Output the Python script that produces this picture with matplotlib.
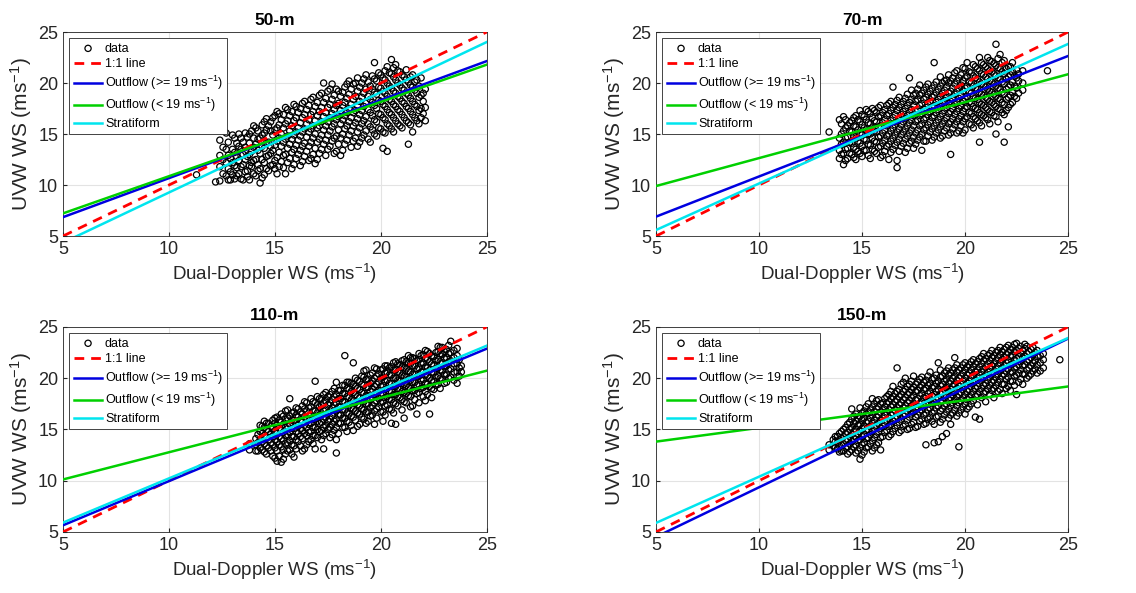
import numpy as np
import matplotlib.pyplot as plt

plt.rcParams['font.family'] = ['Liberation Sans', 'DejaVu Sans']
plt.rcParams['mathtext.fontset'] = 'custom'
plt.rcParams['mathtext.rm'] = 'Liberation Sans'
plt.rcParams['mathtext.it'] = 'Liberation Sans:italic'

# Datos: columnas de x con sus valores de y (dos grupos por panel)
x50 = [11.3, 12.2, 12.4, 12.7, 12.9, 13.1, 13.3, 13.5, 13.7, 13.9, 14.1, 14.3, 14.5, 14.7, 14.9,
       15.1, 15.3, 15.5, 15.7, 15.9, 16.1, 16.3, 16.5, 16.7, 16.9, 17.1, 17.3, 17.5, 17.7, 17.9,
       18.1, 18.3, 18.5, 18.7, 18.9, 19.1, 19.3, 19.5, 19.7, 19.9, 20.1, 20.3, 20.5, 20.7, 20.9,
       21.1, 21.3, 21.5, 21.7, 21.9, 22.1]
y50 = [[11.0], [10.3], [10.4, 11.8, 12.9, 14.4], [10.9, 12.2, 13.5, 15.1], [11.3, 12.6, 10.5],
       [10.6, 11.9, 13.2, 14.6], [11.1, 12.4, 13.8, 15.0], [10.5, 12.0, 13.0, 14.2],
       [11.4, 12.8, 14.7, 10.8], [11.8, 13.3, 15.3, 12.2], [10.9, 12.5, 14.0, 15.6],
       [11.6, 13.1, 14.6, 10.2], [12.2, 13.6, 15.1, 16.2, 11.0], [11.4, 12.9, 14.2, 15.8],
       [12.0, 13.4, 14.9, 16.6], [11.1, 12.7, 14.3, 15.6, 17.2], [12.3, 13.8, 15.0, 16.4],
       [11.1, 13.0, 14.5, 16.0, 17.6], [12.6, 14.0, 15.3, 16.8], [12.0, 13.5, 14.9, 16.3, 17.9],
       [13.0, 14.4, 15.6, 17.1], [12.3, 13.8, 15.2, 16.6, 18.0], [13.3, 14.7, 16.0, 17.4],
       [12.6, 14.2, 15.5, 16.9, 18.4], [13.6, 15.0, 16.3, 17.7, 12.1], [13.1, 14.5, 15.8, 17.2, 18.8],
       [14.0, 15.4, 16.7, 18.1, 20.0], [13.5, 14.9, 16.2, 17.6, 19.2], [14.3, 15.7, 17.0, 18.4, 19.9],
       [13.3, 14.8, 16.4, 17.8, 19.4], [14.6, 16.0, 17.3, 18.7, 12.9], [14.0, 15.5, 16.8, 18.1, 19.6],
       [14.9, 16.2, 17.5, 18.9, 20.2], [14.3, 15.8, 17.1, 18.4, 19.9], [13.8, 15.2, 16.5, 17.8, 19.2, 20.5],
       [14.6, 16.0, 17.3, 18.6, 20.0], [15.3, 16.7, 18.0, 19.4, 20.8], [14.2, 15.7, 17.1, 18.4, 19.7],
       [15.0, 16.4, 17.8, 19.1, 20.4, 22.0], [15.6, 17.0, 18.3, 19.6, 21.0],
       [13.6, 15.2, 16.6, 17.9, 19.2, 20.5], [13.3, 16.0, 17.4, 18.7, 20.0, 21.6],
       [15.5, 16.9, 18.2, 19.5, 20.9, 22.3], [16.3, 17.7, 19.0, 20.3, 21.8],
       [15.8, 17.2, 18.5, 19.8, 21.1], [16.6, 18.0, 19.3, 20.6], [14.0, 16.1, 17.5, 18.8, 20.1],
       [15.2, 16.9, 18.2, 19.6, 20.8], [16.3, 17.7, 19.0, 20.3], [16.6, 17.5, 18.8, 20.5],
       [16.3, 17.6, 19.4]]
x50b = [12.55, 12.8, 13.0, 13.2, 13.4, 13.6, 13.8, 14.0, 14.2, 14.4, 14.6, 14.8, 15.0, 15.2, 15.4,
        15.6, 15.8, 16.0, 16.2, 16.4, 16.6, 16.8, 17.0, 17.2, 17.4, 17.6, 17.8, 18.0, 18.2, 18.4,
        18.6, 18.8, 19.0, 19.2, 19.4, 19.6, 19.8, 20.0, 20.2, 20.4, 20.6, 20.8, 21.0, 21.2, 21.4,
        21.6, 21.8, 22.0]
y50b = [[11.1, 12.5, 13.7], [10.5, 11.6, 12.9, 14.2], [11.0, 12.2, 13.5, 14.9], [10.9, 11.7, 12.8, 14.1],
        [10.6, 11.8, 12.9, 13.5, 14.6], [11.3, 12.5, 13.7, 15.1], [10.5, 11.9, 13.0, 14.1, 15.0],
        [11.1, 12.4, 13.7, 14.6, 15.8], [11.4, 12.0, 13.4, 14.5, 15.3], [10.7, 12.5, 13.8, 14.9, 15.9],
        [11.6, 12.8, 14.1, 15.4, 16.5], [11.9, 13.1, 13.8, 15.3, 16.2], [11.6, 12.4, 13.9, 15.4, 16.8],
        [11.8, 13.2, 14.6, 15.9, 17.0], [11.7, 12.9, 14.2, 15.6, 16.9], [12.2, 13.6, 14.8, 16.3, 17.4],
        [11.6, 13.2, 14.5, 15.8, 17.2], [12.6, 13.9, 15.2, 16.6, 17.7], [11.9, 13.4, 14.8, 16.1, 17.5],
        [12.8, 14.1, 15.5, 16.9, 18.2], [12.4, 13.8, 15.2, 16.4, 17.8], [13.0, 14.6, 15.8, 17.2, 18.6],
        [12.5, 14.2, 15.6, 16.8, 18.1], [13.5, 14.9, 16.2, 17.6, 19.0], [12.9, 14.4, 15.8, 17.1, 18.5],
        [13.8, 15.3, 16.6, 17.9, 19.4], [13.1, 14.6, 16.0, 17.4, 18.8], [14.0, 15.4, 16.7, 18.0, 19.2],
        [13.4, 15.0, 16.4, 17.8, 19.1], [14.4, 15.8, 17.1, 18.5, 19.9], [13.7, 15.3, 16.6, 17.9, 19.4],
        [14.6, 16.1, 17.3, 18.7, 20.0], [14.2, 15.6, 16.9, 18.2, 19.6], [14.9, 16.3, 17.7, 19.0, 20.4],
        [14.5, 16.0, 17.4, 18.7, 20.1], [15.4, 16.8, 18.1, 19.4, 20.7], [14.8, 16.2, 17.5, 18.9, 20.2],
        [15.5, 16.9, 18.2, 19.5, 20.8], [15.1, 16.4, 17.7, 19.0, 20.3, 21.2], [15.8, 17.1, 18.4, 19.7, 21.0],
        [15.2, 16.6, 17.9, 19.2, 20.6, 21.5], [16.0, 17.4, 18.7, 20.0, 21.2], [15.6, 16.9, 18.2, 19.5, 20.8],
        [16.3, 17.7, 19.0, 20.3, 21.3], [15.9, 17.2, 18.5, 19.8, 20.6], [16.6, 17.9, 19.3, 20.1],
        [16.0, 17.3, 18.6, 19.7], [17.0, 18.2, 19.0]]

x70 = [13.4, 13.9, 14.1, 14.3, 14.5, 14.7, 14.9, 15.1, 15.3, 15.5, 15.7, 15.9, 16.1, 16.3, 16.5,
       16.7, 16.9, 17.1, 17.3, 17.5, 17.7, 17.9, 18.1, 18.3, 18.5, 18.7, 18.9, 19.1, 19.3, 19.5,
       19.7, 19.9, 20.1, 20.3, 20.5, 20.7, 20.9, 21.1, 21.3, 21.5, 21.7, 21.9, 22.1, 22.3, 22.5,
       22.8, 24.0]
y70 = [[15.2], [12.6, 13.4, 14.6, 16.4], [12.0, 13.1, 14.2, 15.3, 16.7], [12.6, 13.6, 14.7, 15.8],
       [13.0, 14.1, 15.2, 16.3], [12.5, 13.5, 14.6, 15.7, 16.8], [13.1, 14.1, 15.1, 16.2, 17.3],
       [13.4, 14.5, 15.6, 16.7], [12.9, 14.0, 15.0, 16.1, 17.2], [13.5, 14.6, 15.6, 16.6, 17.5],
       [13.1, 14.2, 15.2, 16.2, 17.1], [12.7, 13.8, 14.8, 15.8, 16.8, 17.8], [13.3, 14.4, 15.4, 16.4, 17.4],
       [12.5, 14.0, 15.0, 16.0, 17.0, 18.0], [13.5, 14.6, 15.6, 16.6, 17.6, 19.6],
       [11.7, 12.4, 14.2, 15.2, 16.2, 17.3, 18.3], [13.8, 14.9, 15.9, 16.9, 17.9],
       [13.2, 14.5, 15.5, 16.5, 17.5, 18.5], [14.1, 15.1, 16.1, 17.1, 18.1, 20.5],
       [13.6, 14.7, 15.8, 16.8, 17.8, 18.8], [14.4, 15.4, 16.4, 17.4, 18.4, 19.4],
       [13.4, 15.0, 16.0, 17.0, 18.0, 19.0], [14.3, 15.6, 16.6, 17.6, 18.6, 19.6],
       [15.2, 16.2, 17.2, 18.2, 19.2], [14.7, 15.8, 16.8, 17.8, 18.8, 19.8, 22.0],
       [15.4, 16.4, 17.4, 18.4, 19.4], [14.8, 16.0, 17.0, 18.0, 19.0, 20.0],
       [15.6, 16.6, 17.6, 18.6, 19.6, 20.3], [13.0, 15.1, 16.2, 17.2, 18.2, 19.2, 20.2],
       [15.9, 16.9, 17.9, 18.9, 19.9, 21.0], [15.3, 16.5, 17.5, 18.5, 19.5, 20.5],
       [15.1, 16.2, 17.2, 18.2, 19.2, 20.2, 21.5], [16.7, 17.7, 18.7, 19.7, 20.7, 22.0],
       [15.9, 17.0, 18.0, 19.0, 20.0, 21.0], [16.5, 17.5, 18.5, 19.5, 20.5, 21.6],
       [14.2, 16.1, 17.1, 18.1, 19.1, 20.1, 21.2, 22.5], [16.8, 17.8, 18.8, 19.8, 20.8, 21.8],
       [16.4, 17.4, 18.4, 19.4, 20.4, 21.4, 22.5], [17.1, 18.1, 19.1, 20.1, 21.1, 22.1],
       [15.0, 16.7, 17.7, 18.7, 19.7, 20.7, 21.7, 23.8], [17.4, 18.4, 19.4, 20.4, 21.4, 22.8],
       [14.2, 16.9, 17.9, 18.9, 19.9, 20.9, 22.2], [15.7, 17.6, 18.6, 19.6, 20.6, 21.6],
       [18.1, 19.1, 20.1, 21.1, 22.0], [18.5, 19.5, 20.5, 21.3], [19.3, 20.0, 21.2], [21.2]]
x70b = [14.0, 14.2, 14.4, 14.6, 14.8, 15.0, 15.2, 15.4, 15.6, 15.8, 16.0, 16.2, 16.4, 16.6, 16.8,
        17.0, 17.2, 17.4, 17.6, 17.8, 18.0, 18.2, 18.4, 18.6, 18.8, 19.0, 19.2, 19.4, 19.6, 19.8,
        20.0, 20.2, 20.4, 20.6, 20.8, 21.0, 21.2, 21.4, 21.6, 21.8, 22.0, 22.2, 22.4, 22.6]
y70b = [[13.0, 14.0, 15.0, 16.0], [12.4, 13.5, 14.6, 15.6, 16.4], [13.1, 14.2, 15.3, 16.1],
        [12.7, 13.7, 14.8, 15.8, 16.6], [13.3, 14.3, 15.4, 16.4], [12.8, 13.8, 14.9, 15.9, 16.9],
        [13.4, 14.4, 15.4, 16.4, 17.4], [12.6, 13.9, 15.0, 16.0, 17.0], [13.3, 14.3, 15.3, 16.3, 17.3],
        [13.7, 14.7, 15.7, 16.7, 17.6], [12.9, 14.1, 15.1, 16.1, 17.1], [13.8, 14.8, 15.8, 16.8, 17.8],
        [13.2, 14.3, 15.3, 16.3, 17.3, 18.2], [13.9, 14.9, 15.9, 16.9, 17.9],
        [13.3, 14.5, 15.5, 16.5, 17.6, 18.6], [14.1, 15.2, 16.2, 17.2, 18.2],
        [13.6, 14.8, 15.8, 16.8, 17.8, 18.9], [14.3, 15.4, 16.4, 17.4, 18.4, 19.3],
        [14.0, 15.1, 16.2, 17.2, 18.2, 19.0], [14.7, 15.8, 16.8, 17.8, 18.8, 19.8],
        [14.3, 15.4, 16.4, 17.4, 18.4, 19.3], [14.8, 15.9, 16.9, 17.9, 18.9, 19.9],
        [14.4, 15.5, 16.6, 17.6, 18.6, 19.5], [15.1, 16.1, 17.1, 18.1, 19.1, 20.1],
        [14.6, 15.7, 16.7, 17.7, 18.7, 19.7, 20.6], [15.3, 16.3, 17.3, 18.3, 19.3, 20.2],
        [14.9, 16.0, 17.0, 18.0, 19.0, 20.0, 20.8], [15.5, 16.5, 17.5, 18.5, 19.5, 20.5],
        [15.1, 16.2, 17.2, 18.2, 19.2, 20.2, 21.2], [15.8, 16.8, 17.8, 18.8, 19.8, 20.8],
        [15.4, 16.5, 17.5, 18.5, 19.5, 20.5, 21.4], [16.0, 17.1, 18.1, 19.1, 20.1, 21.1],
        [15.6, 16.7, 17.7, 18.7, 19.7, 20.7, 21.8], [16.3, 17.4, 18.4, 19.4, 20.4, 21.4],
        [15.8, 16.9, 17.9, 18.9, 19.9, 20.9, 22.0], [16.6, 17.6, 18.6, 19.6, 20.6, 21.6],
        [16.0, 17.2, 18.2, 19.2, 20.2, 21.2, 22.2], [16.8, 17.9, 18.9, 19.9, 20.9, 21.9],
        [16.2, 17.5, 18.5, 19.5, 20.5, 21.5, 22.4], [17.1, 18.1, 19.1, 20.1, 21.1, 22.0],
        [17.3, 18.4, 19.4, 20.4, 21.4], [17.9, 18.8, 19.8, 20.8, 21.6], [18.7, 19.7, 20.7],
        [19.0, 20.2, 20.9]]

x110 = [13.8, 14.1, 14.3, 14.5, 14.7, 14.9, 15.1, 15.3, 15.5, 15.7, 15.9, 16.1, 16.3, 16.5, 16.7,
        16.9, 17.1, 17.3, 17.5, 17.7, 17.9, 18.1, 18.3, 18.5, 18.7, 18.9, 19.1, 19.3, 19.5, 19.7,
        19.9, 20.1, 20.3, 20.5, 20.7, 20.9, 21.1, 21.3, 21.5, 21.7, 21.9, 22.1, 22.3, 22.5, 22.7,
        22.9, 23.1, 23.3, 23.6, 23.8]
y110 = [[13.0, 13.6], [12.9, 13.5, 14.1], [13.2, 14.0, 14.8, 15.4], [12.8, 13.6, 14.4, 15.2, 15.8],
        [13.2, 14.0, 14.8, 15.6], [12.4, 13.5, 14.3, 15.1, 15.9], [11.9, 12.9, 13.8, 14.6, 15.4, 16.2],
        [11.8, 13.3, 14.1, 14.9, 15.7, 16.5], [12.6, 13.6, 14.4, 15.2, 16.0, 16.8],
        [13.0, 13.9, 14.7, 15.5, 16.3, 18.0], [12.3, 13.4, 14.3, 15.1, 15.9, 16.7],
        [13.8, 14.6, 15.4, 16.2, 17.0], [12.9, 14.1, 14.9, 15.7, 16.5, 17.3],
        [13.5, 14.4, 15.2, 16.0, 16.8, 17.6], [14.0, 14.8, 15.6, 16.4, 17.2, 18.0],
        [13.1, 14.4, 15.2, 16.0, 16.8, 17.6, 19.7], [14.8, 15.6, 16.4, 17.2, 18.0],
        [13.1, 14.4, 15.2, 16.0, 16.8, 17.6, 18.4], [15.0, 15.8, 16.6, 17.4, 18.2],
        [14.5, 15.5, 16.3, 17.1, 17.9, 18.7], [12.7, 14.0, 15.2, 16.0, 16.8, 17.6, 18.4, 19.6],
        [15.6, 16.4, 17.2, 18.0, 18.8], [15.2, 16.1, 16.9, 17.7, 18.5, 19.3, 22.2],
        [15.7, 16.5, 17.3, 18.1, 18.9, 19.6], [14.9, 16.2, 17.0, 17.8, 18.6, 19.4, 21.5],
        [15.3, 16.6, 17.4, 18.2, 19.0, 19.8], [16.2, 17.0, 17.8, 18.6, 19.4, 20.2],
        [15.6, 16.7, 17.5, 18.3, 19.1, 19.9, 20.8], [16.3, 17.1, 17.9, 18.7, 19.5, 20.3],
        [15.5, 16.8, 17.6, 18.4, 19.2, 20.0, 21.0], [17.2, 18.0, 18.8, 19.6, 20.4],
        [15.8, 16.7, 17.7, 18.5, 19.3, 20.1, 20.9], [17.4, 18.2, 19.0, 19.8, 20.6, 21.2],
        [15.6, 16.9, 17.9, 18.7, 19.5, 20.3, 21.1], [15.5, 17.5, 18.4, 19.2, 20.0, 20.8, 21.6],
        [18.1, 18.9, 19.7, 20.5, 21.3], [16.1, 17.7, 18.6, 19.4, 20.2, 21.0, 21.8],
        [18.3, 19.1, 19.9, 20.7, 21.5, 22.2], [17.3, 18.8, 19.6, 20.4, 21.2, 22.0],
        [16.5, 18.5, 19.3, 20.1, 20.9, 21.7], [19.0, 19.8, 20.6, 21.4, 22.2],
        [17.8, 18.7, 19.5, 20.3, 21.1, 21.9, 22.7], [16.5, 19.2, 20.0, 20.8, 21.6, 22.4],
        [18.9, 19.7, 20.5, 21.3, 22.1], [19.4, 20.2, 21.0, 21.8, 22.6, 23.1],
        [19.9, 20.7, 21.5, 22.3, 23.0], [19.6, 20.4, 21.2, 22.0, 22.8],
        [20.1, 20.9, 21.7, 22.5, 23.6], [19.5, 20.6, 21.4, 22.2, 22.9], [20.6, 21.2]]
x110b = [14.2, 14.4, 14.6, 14.8, 15.0, 15.2, 15.4, 15.6, 15.8, 16.0, 16.2, 16.4, 16.6, 16.8, 17.0,
         17.2, 17.4, 17.6, 17.8, 18.0, 18.2, 18.4, 18.6, 18.8, 19.0, 19.2, 19.4, 19.6, 19.8, 20.0,
         20.2, 20.4, 20.6, 20.8, 21.0, 21.2, 21.4, 21.6, 21.8, 22.0, 22.2, 22.4, 22.6, 22.8, 23.0,
         23.2, 23.45, 23.7]
y110b = [[12.9, 13.7, 14.5], [13.0, 13.8, 14.6, 15.3], [12.6, 13.4, 14.2, 15.0, 15.6],
         [12.9, 13.7, 14.5, 15.3], [12.2, 13.2, 14.0, 14.8, 15.6, 16.1], [12.4, 13.5, 14.3, 15.1, 15.9],
         [12.1, 13.0, 13.9, 14.7, 15.5, 16.3], [12.9, 13.7, 14.5, 15.3, 16.1, 16.9],
         [12.6, 13.5, 14.3, 15.1, 15.9, 16.6], [13.1, 14.0, 14.8, 15.6, 16.4, 17.1],
         [13.4, 14.3, 15.1, 15.9, 16.7], [13.1, 14.6, 15.4, 16.2, 17.0, 17.7],
         [13.8, 14.7, 15.5, 16.3, 17.1], [13.6, 14.4, 15.2, 16.0, 16.8, 17.7],
         [14.2, 15.0, 15.8, 16.6, 17.4, 18.2], [14.0, 14.9, 15.7, 16.5, 17.3, 18.0],
         [14.6, 15.4, 16.2, 17.0, 17.8, 18.6], [14.2, 15.2, 16.0, 16.8, 17.6, 18.4],
         [14.9, 15.8, 16.6, 17.4, 18.2, 19.0], [14.6, 15.6, 16.4, 17.2, 18.0, 18.8],
         [15.2, 16.1, 16.9, 17.7, 18.5, 19.3], [14.8, 15.8, 16.6, 17.4, 18.2, 19.0, 19.6],
         [15.4, 16.3, 17.1, 17.9, 18.7, 19.5], [15.9, 16.8, 17.6, 18.4, 19.2, 20.0],
         [15.5, 16.5, 17.3, 18.1, 18.9, 19.7], [16.0, 16.9, 17.7, 18.5, 19.3, 20.1, 20.7],
         [15.8, 16.7, 17.5, 18.3, 19.1, 19.9], [16.4, 17.3, 18.1, 18.9, 19.7, 20.5],
         [16.1, 17.0, 17.8, 18.6, 19.4, 20.2, 20.9], [16.7, 17.6, 18.4, 19.2, 20.0, 20.8],
         [16.4, 17.3, 18.1, 18.9, 19.7, 20.5, 21.2], [17.0, 17.9, 18.7, 19.5, 20.3, 21.0],
         [16.6, 17.6, 18.4, 19.2, 20.0, 20.8, 21.5], [17.3, 18.2, 19.0, 19.8, 20.6, 21.4],
         [16.9, 17.9, 18.7, 19.5, 20.3, 21.1, 21.7], [17.6, 18.5, 19.3, 20.1, 20.9, 21.6],
         [17.2, 18.2, 19.0, 19.8, 20.6, 21.4, 22.0], [17.9, 18.8, 19.6, 20.4, 21.2, 21.9],
         [17.6, 18.6, 19.4, 20.2, 21.0, 21.8, 22.4], [18.2, 19.1, 19.9, 20.7, 21.5, 22.3],
         [18.4, 19.4, 20.2, 21.0, 21.8, 22.6], [18.1, 19.0, 19.8, 20.6, 21.4, 22.2],
         [19.3, 20.1, 20.9, 21.7, 22.5], [19.0, 20.0, 20.8, 21.6, 22.4, 23.0],
         [19.5, 20.3, 21.1, 21.9, 22.6], [20.0, 20.8, 21.6, 22.4, 23.2],
         [19.8, 20.6, 21.4, 22.0, 22.7], [20.2, 21.0, 21.8]]

x150 = [13.4, 13.7, 13.9, 14.1, 14.3, 14.5, 14.7, 14.9, 15.1, 15.3, 15.5, 15.7, 15.9, 16.1, 16.3,
        16.5, 16.7, 16.9, 17.1, 17.3, 17.5, 17.7, 17.9, 18.1, 18.3, 18.5, 18.7, 18.9, 19.1, 19.3,
        19.5, 19.7, 19.9, 20.1, 20.3, 20.5, 20.7, 20.9, 21.1, 21.3, 21.5, 21.7, 21.9, 22.1, 22.3,
        22.5, 22.7, 22.9, 23.1, 23.3, 23.5, 23.8, 24.6]
y150 = [[13.0, 13.5], [13.2, 13.8, 14.3], [12.8, 13.4, 14.0, 14.6], [12.9, 13.6, 14.3, 15.0],
        [12.6, 13.3, 14.0, 14.7, 15.5], [13.0, 13.8, 14.5, 15.2, 16.0, 17.0],
        [12.7, 13.5, 14.3, 15.0, 15.8, 16.5], [12.1, 13.2, 14.0, 14.8, 15.5, 16.3, 17.1],
        [12.8, 13.7, 14.5, 15.3, 16.1, 16.8], [13.3, 14.2, 15.0, 15.8, 16.6, 17.5],
        [12.9, 13.9, 14.8, 15.6, 16.4, 17.2, 18.0], [13.5, 14.5, 15.4, 16.2, 17.0, 17.8],
        [13.0, 14.2, 15.1, 15.9, 16.7, 17.5], [14.7, 15.6, 16.4, 17.2, 18.0],
        [14.3, 15.3, 16.1, 16.9, 17.7, 18.4], [14.8, 15.8, 16.6, 17.4, 18.2, 19.2],
        [15.4, 16.3, 17.1, 17.9, 18.7, 21.0], [14.9, 16.0, 16.8, 17.6, 18.4, 19.4],
        [15.5, 16.5, 17.3, 18.1, 18.9, 20.0], [15.1, 16.2, 17.0, 17.8, 18.6, 19.4],
        [15.7, 16.7, 17.5, 18.3, 19.1, 20.2], [15.3, 16.4, 17.2, 18.0, 18.8, 19.6],
        [16.0, 16.9, 17.7, 18.5, 19.3, 20.1], [13.5, 15.6, 16.6, 17.4, 18.2, 19.0, 19.8],
        [16.2, 17.1, 17.9, 18.7, 19.5, 20.6], [13.7, 15.5, 16.8, 17.6, 18.4, 19.2, 20.0],
        [13.8, 16.3, 17.3, 18.1, 18.9, 19.7, 21.5], [14.3, 16.0, 17.0, 17.8, 18.6, 19.4, 20.2],
        [14.6, 16.7, 17.5, 18.3, 19.1, 19.9, 20.7], [15.5, 16.4, 17.3, 18.1, 18.9, 19.7, 20.5],
        [16.9, 17.8, 18.6, 19.4, 20.2, 21.0, 22.0], [13.3, 16.6, 17.6, 18.4, 19.2, 20.0, 20.8],
        [17.2, 18.1, 18.9, 19.7, 20.5, 21.3], [17.0, 17.9, 18.7, 19.5, 20.3, 21.1],
        [17.5, 18.4, 19.2, 20.0, 20.8, 21.6], [16.2, 18.2, 19.0, 19.8, 20.6, 21.4],
        [16.0, 18.7, 19.5, 20.3, 21.1, 21.9], [18.5, 19.3, 20.1, 20.9, 21.7, 22.4],
        [19.0, 19.8, 20.6, 21.4, 22.2], [18.8, 19.6, 20.4, 21.2, 22.0, 22.7],
        [19.3, 20.1, 20.9, 21.7, 22.5], [18.9, 19.9, 20.7, 21.5, 22.3, 23.0],
        [19.4, 20.4, 21.2, 22.0, 22.8], [19.2, 20.1, 20.9, 21.7, 22.5, 23.2],
        [19.7, 20.6, 21.4, 22.2, 23.0], [18.4, 20.3, 21.1, 21.9, 22.7, 23.4],
        [19.9, 20.8, 21.6, 22.4, 23.1], [20.4, 21.3, 22.1, 22.9, 23.3], [20.2, 21.0, 21.8, 22.6],
        [20.7, 21.5, 22.3, 23.0], [20.5, 21.3, 22.1, 22.7], [21.0, 21.8, 22.4], [21.8]]
x150b = [13.6, 13.8, 14.0, 14.2, 14.4, 14.6, 14.8, 15.0, 15.2, 15.4, 15.6, 15.8, 16.0, 16.2, 16.4,
         16.6, 16.8, 17.0, 17.2, 17.4, 17.6, 17.8, 18.0, 18.2, 18.4, 18.6, 18.8, 19.0, 19.2, 19.4,
         19.6, 19.8, 20.0, 20.2, 20.4, 20.6, 20.8, 21.0, 21.2, 21.4, 21.6, 21.8, 22.0, 22.2, 22.4,
         22.6, 22.8, 23.0, 23.2, 23.4, 23.65]
y150b = [[13.4, 14.0], [13.1, 13.7, 14.3], [12.9, 13.5, 14.1, 14.8], [13.2, 13.9, 14.6, 15.2],
         [12.8, 13.6, 14.3, 15.0, 15.7], [13.3, 14.1, 14.8, 15.6, 16.3], [12.9, 13.9, 14.6, 15.4, 16.1],
         [12.5, 13.5, 14.3, 15.1, 15.9, 16.6], [13.2, 14.1, 14.9, 15.7, 16.5, 17.2],
         [13.6, 14.5, 15.3, 16.1, 16.9], [13.2, 14.2, 15.1, 15.9, 16.7, 17.5],
         [13.7, 14.8, 15.6, 16.4, 17.2, 17.9], [14.3, 15.3, 16.1, 16.9, 17.6],
         [14.9, 15.9, 16.7, 17.5, 18.2], [14.5, 15.5, 16.4, 17.2, 18.0, 18.7],
         [15.1, 16.1, 16.9, 17.7, 18.5], [14.7, 15.7, 16.6, 17.4, 18.2, 18.9],
         [15.3, 16.3, 17.1, 17.9, 18.7, 19.6], [15.0, 15.9, 16.8, 17.6, 18.4, 19.2],
         [15.5, 16.5, 17.3, 18.1, 18.9, 19.7], [15.2, 16.2, 17.1, 17.9, 18.7, 19.4],
         [15.8, 16.7, 17.5, 18.3, 19.1, 19.9], [15.5, 16.4, 17.3, 18.1, 18.9, 19.6],
         [16.0, 16.9, 17.7, 18.5, 19.3, 20.2], [15.8, 16.6, 17.5, 18.3, 19.1, 19.9],
         [16.2, 17.1, 17.9, 18.7, 19.5, 20.3], [15.7, 16.8, 17.7, 18.5, 19.3, 20.1, 20.8],
         [16.4, 17.3, 18.1, 18.9, 19.7, 20.5], [16.1, 17.0, 17.9, 18.7, 19.5, 20.3, 21.0],
         [16.6, 17.6, 18.4, 19.2, 20.0, 20.8], [16.3, 17.3, 18.2, 19.0, 19.8, 20.6, 21.3],
         [16.9, 17.8, 18.6, 19.4, 20.2, 21.0], [16.5, 17.5, 18.4, 19.2, 20.0, 20.8, 21.5],
         [17.2, 18.1, 18.9, 19.7, 20.5, 21.3], [17.8, 18.7, 19.5, 20.3, 21.1, 21.8],
         [17.4, 18.4, 19.2, 20.0, 20.8, 21.6], [18.1, 19.0, 19.8, 20.6, 21.4, 22.1],
         [17.7, 18.7, 19.5, 20.3, 21.1, 21.9], [18.4, 19.3, 20.1, 20.9, 21.7, 22.4],
         [18.1, 19.0, 19.8, 20.6, 21.4, 22.2], [18.7, 19.6, 20.4, 21.2, 22.0, 22.7],
         [18.5, 19.4, 20.2, 21.0, 21.8, 22.6], [19.0, 19.9, 20.7, 21.5, 22.3, 23.0],
         [18.8, 19.7, 20.5, 21.3, 22.1, 22.8], [19.3, 20.2, 21.0, 21.8, 22.6, 23.3],
         [19.6, 20.5, 21.3, 22.1, 22.9], [19.4, 20.4, 21.2, 22.0, 22.7],
         [20.0, 20.8, 21.6, 22.4, 23.1], [20.4, 21.2, 22.0, 22.8], [20.9, 21.7, 22.5],
         [20.7, 21.5, 22.2]]

# Rectas de ajuste: valores de y en x = 5 y x = 25
linea_x = [5, 25]
uno_a_uno = [5, 25]
outflow_alto = {'50-m': [6.85, 22.15], '70-m': [6.9, 22.65], '110-m': [5.65, 22.88], '150-m': [4.52, 23.86]}
outflow_bajo = {'50-m': [7.22, 21.8], '70-m': [9.9, 20.86], '110-m': [10.12, 20.73], '150-m': [13.81, 19.19]}
estratiforme = {'50-m': [4.35, 24.02], '70-m': [5.59, 23.83], '110-m': [5.91, 23.17], '150-m': [5.88, 23.92]}

paneles = [('50-m', x50, y50, x50b, y50b), ('70-m', x70, y70, x70b, y70b),
           ('110-m', x110, y110, x110b, y110b), ('150-m', x150, y150, x150b, y150b)]
posiciones = [[0.0555, 0.602, 0.373, 0.344], [0.5775, 0.602, 0.3627, 0.344],
              [0.0555, 0.103, 0.373, 0.3457], [0.5775, 0.103, 0.3627, 0.3457]]

gris = '#262626'
fig = plt.figure(figsize=(11.36, 5.93), dpi=100)

for (nombre, xa, ya, xb, yb), pos in zip(paneles, posiciones):
    ax = fig.add_axes(pos)
    cols_x = list(xa) + list(xb)
    cols_y = list(ya) + list(yb)
    px = np.concatenate([[x] * len(col) for x, col in zip(cols_x, cols_y)])
    py = np.concatenate(cols_y)
    ax.scatter(px, py, s=20, facecolors='none', edgecolors='black', linewidths=0.9, label='data', zorder=2)
    ax.plot(linea_x, uno_a_uno, color='red', ls=(0, (3.5, 2.5)), lw=2, label='1:1 line', zorder=3)
    ax.plot(linea_x, outflow_alto[nombre], color='#0000e0', lw=1.8, label='Outflow (>= 19 ms$^{-1}$)', zorder=3)
    ax.plot(linea_x, outflow_bajo[nombre], color='#00d000', lw=1.8, label='Outflow (< 19 ms$^{-1}$)', zorder=3)
    ax.plot(linea_x, estratiforme[nombre], color='#00e5ee', lw=1.8, label='Stratiform', zorder=3)

    ax.set_xlim(5, 25)
    ax.set_ylim(5, 25)
    ax.set_xticks([5, 10, 15, 20, 25])
    ax.set_yticks([5, 10, 15, 20, 25])
    ax.grid(True, color='#e3e3e3', lw=0.8)
    ax.set_axisbelow(True)
    ax.tick_params(direction='in', labelsize=13, colors=gris, length=3, top=False, right=False)
    for sp in ax.spines.values():
        sp.set_color(gris)
        sp.set_linewidth(0.6)
    ax.set_title(nombre, fontsize=12.5, fontweight='bold', pad=5)
    ax.set_xlabel('Dual-Doppler WS (ms$^{-1}$)', fontsize=13.5, color=gris, labelpad=3)
    ax.set_ylabel('UVW WS (ms$^{-1}$)', fontsize=15, color=gris, labelpad=3)

    leg = ax.legend(loc='upper left', fontsize=9, frameon=True, fancybox=False,
                    edgecolor=gris, framealpha=1, handlelength=2.3, handletextpad=0.2,
                    borderaxespad=0.5, labelspacing=0.3, borderpad=0.35)
    leg.get_frame().set_linewidth(0.6)

fig.savefig('out.png', dpi=100)
